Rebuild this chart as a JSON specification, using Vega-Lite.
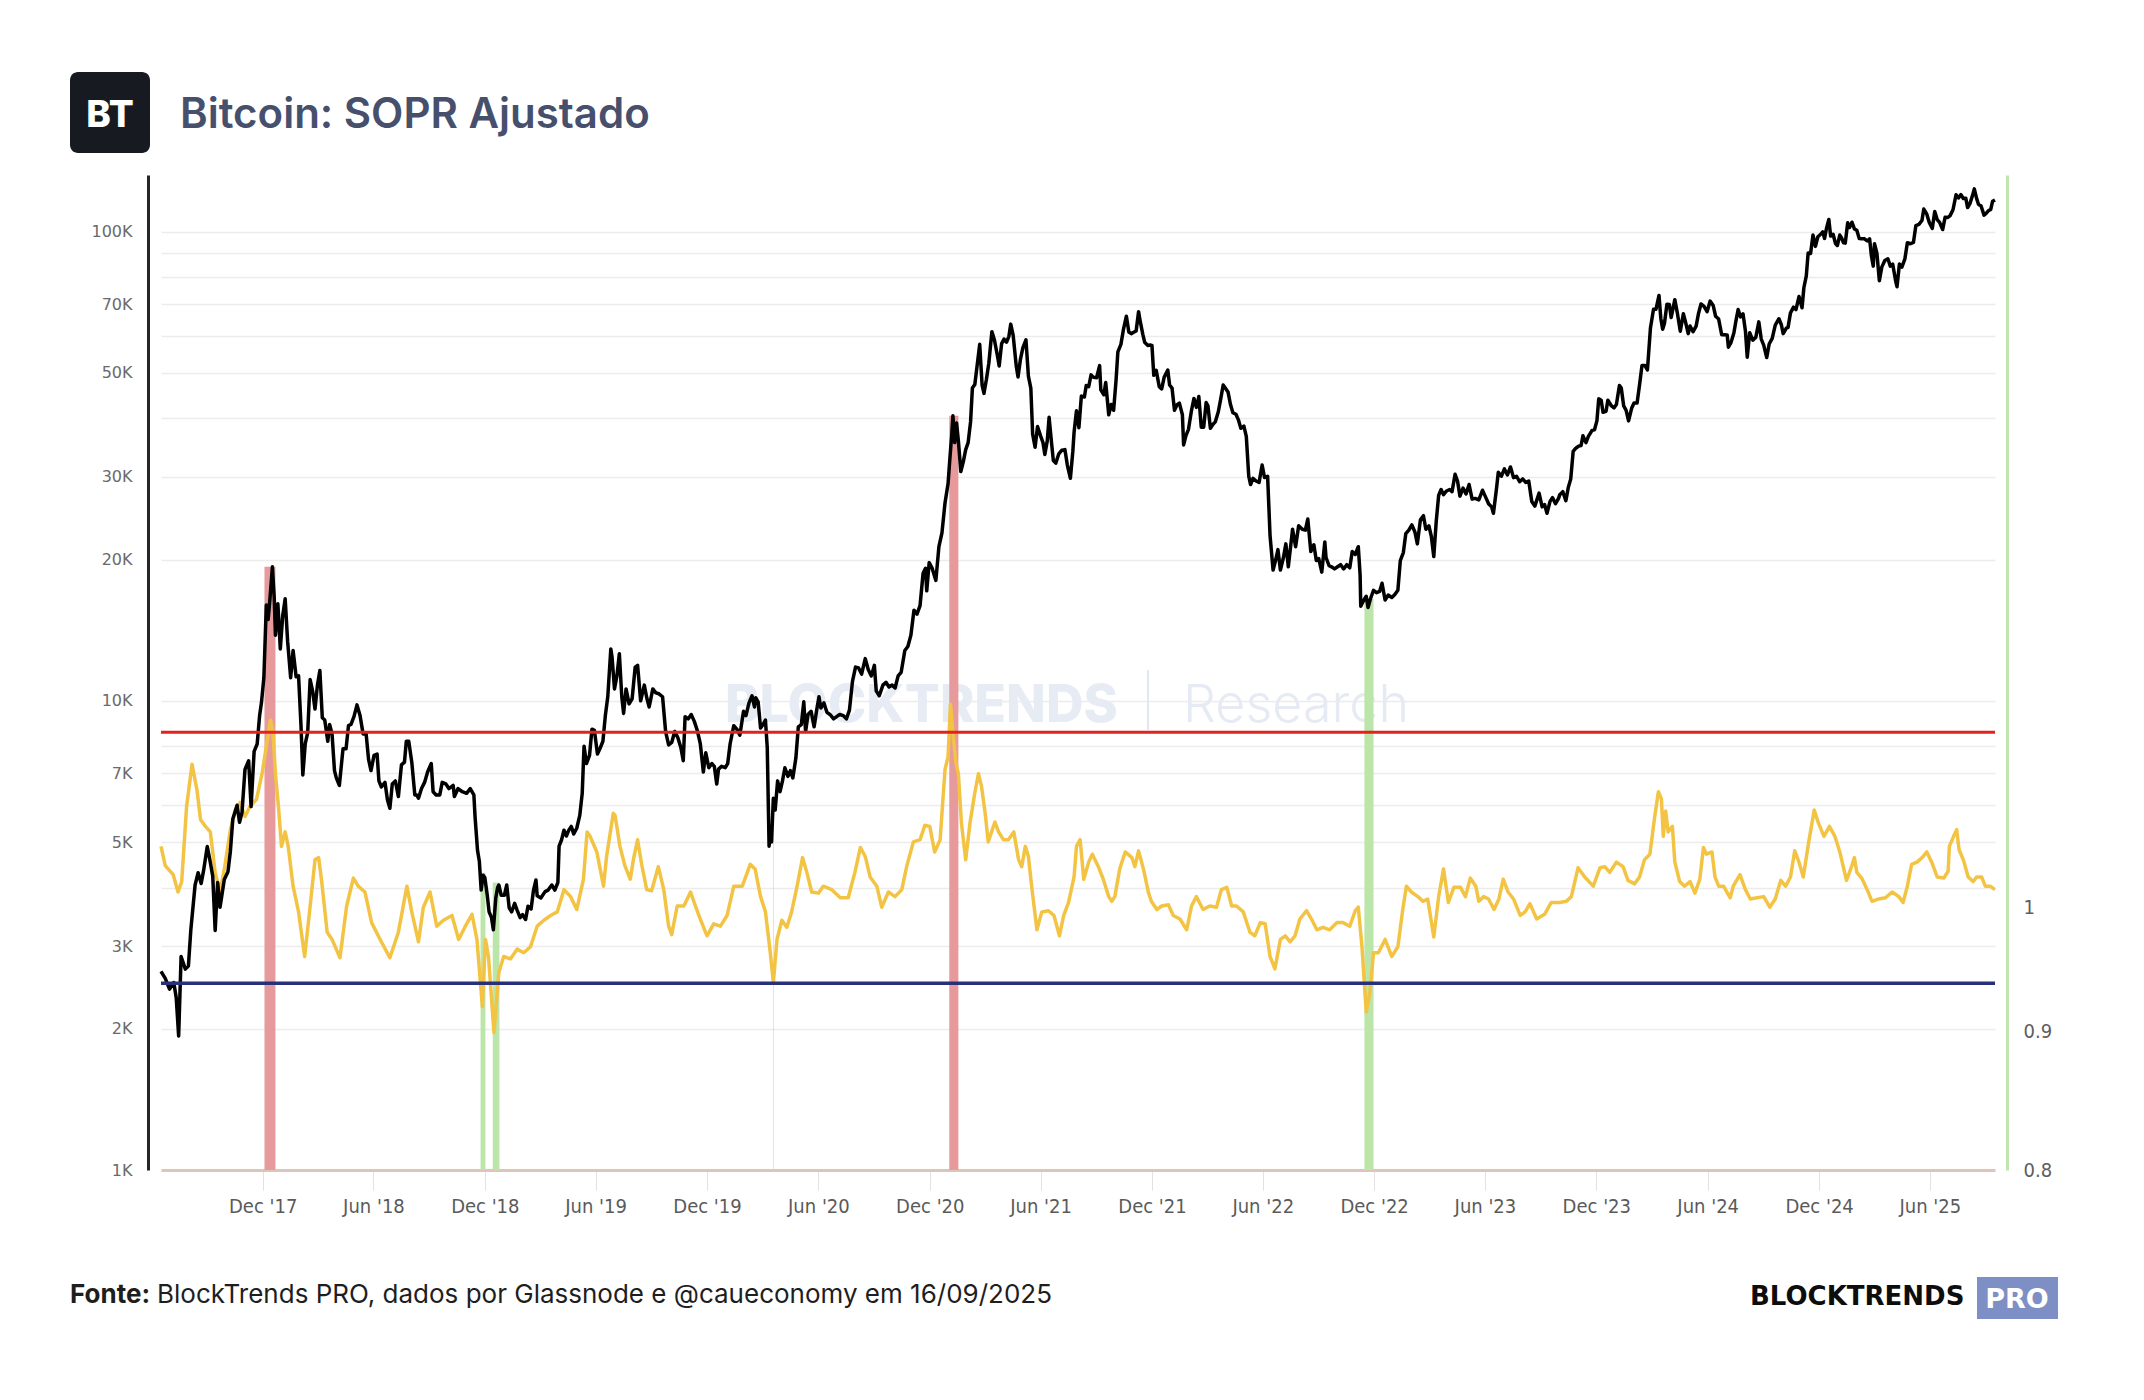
{
  "$schema": "https://vega.github.io/schema/vega-lite/v6.json",
  "width": 1834,
  "height": 995,
  "autosize": {"type": "none"},
  "padding": {"left": 161, "top": 175, "right": 149, "bottom": 230},
  "background": "#ffffff",
  "datasets": {
    "preco": [
      {"d":"2017-06-17","p":2650},{"d":"2017-06-24","p":2560},{"d":"2017-07-01","p":2430},{"d":"2017-07-08","p":2510},{"d":"2017-07-12","p":2330},{"d":"2017-07-16","p":1930},{"d":"2017-07-20","p":2850},{"d":"2017-07-27","p":2680},{"d":"2017-08-01","p":2720},{"d":"2017-08-05","p":3250},{"d":"2017-08-12","p":4050},{"d":"2017-08-17","p":4300},{"d":"2017-08-22","p":4080},{"d":"2017-08-26","p":4350},{"d":"2017-09-01","p":4890},{"d":"2017-09-05","p":4600},{"d":"2017-09-10","p":4230},{"d":"2017-09-14","p":3240},{"d":"2017-09-18","p":4100},{"d":"2017-09-22","p":3630},{"d":"2017-09-29","p":4160},{"d":"2017-10-05","p":4320},{"d":"2017-10-09","p":4780},{"d":"2017-10-13","p":5600},{"d":"2017-10-20","p":5990},{"d":"2017-10-24","p":5510},{"d":"2017-10-28","p":5770},{"d":"2017-11-02","p":7140},{"d":"2017-11-08","p":7450},{"d":"2017-11-12","p":5950},{"d":"2017-11-17","p":7800},{"d":"2017-11-22","p":8090},{"d":"2017-11-26","p":9300},{"d":"2017-11-29","p":9900},{"d":"2017-12-03","p":11200},{"d":"2017-12-07","p":16000},{"d":"2017-12-10","p":14900},{"d":"2017-12-13","p":16500},{"d":"2017-12-17","p":19300},{"d":"2017-12-20","p":16600},{"d":"2017-12-22","p":13800},{"d":"2017-12-26","p":16100},{"d":"2017-12-30","p":12900},
      {"d":"2018-01-03","p":15200},{"d":"2018-01-07","p":16500},{"d":"2018-01-11","p":13400},{"d":"2018-01-16","p":11200},{"d":"2018-01-20","p":12800},{"d":"2018-01-25","p":11250},{"d":"2018-01-29","p":11300},{"d":"2018-02-02","p":8850},{"d":"2018-02-05","p":6950},{"d":"2018-02-09","p":8100},{"d":"2018-02-13","p":8550},{"d":"2018-02-17","p":11100},{"d":"2018-02-21","p":10500},{"d":"2018-02-25","p":9600},{"d":"2018-03-01","p":10800},{"d":"2018-03-05","p":11600},{"d":"2018-03-09","p":9200},{"d":"2018-03-13","p":9100},{"d":"2018-03-18","p":8200},{"d":"2018-03-21","p":8900},{"d":"2018-03-25","p":8500},{"d":"2018-03-29","p":7100},{"d":"2018-04-01","p":6850},{"d":"2018-04-06","p":6600},{"d":"2018-04-12","p":7900},{"d":"2018-04-17","p":7900},{"d":"2018-04-21","p":8850},{"d":"2018-04-25","p":8900},{"d":"2018-04-30","p":9250},{"d":"2018-05-05","p":9800},{"d":"2018-05-10","p":9300},{"d":"2018-05-15","p":8500},{"d":"2018-05-20","p":8500},{"d":"2018-05-24","p":7500},{"d":"2018-05-28","p":7100},{"d":"2018-06-02","p":7650},{"d":"2018-06-07","p":7700},{"d":"2018-06-10","p":6750},{"d":"2018-06-14","p":6550},{"d":"2018-06-20","p":6700},{"d":"2018-06-24","p":6150},{"d":"2018-06-28","p":5900},{"d":"2018-07-02","p":6650},{"d":"2018-07-07","p":6750},{"d":"2018-07-12","p":6250},{"d":"2018-07-17","p":7300},{"d":"2018-07-22","p":7400},{"d":"2018-07-25","p":8200},{"d":"2018-07-29","p":8200},{"d":"2018-08-03","p":7400},{"d":"2018-08-08","p":6300},{"d":"2018-08-11","p":6300},{"d":"2018-08-14","p":6200},{"d":"2018-08-19","p":6500},{"d":"2018-08-24","p":6700},{"d":"2018-08-29","p":7050},{"d":"2018-09-04","p":7350},{"d":"2018-09-07","p":6400},{"d":"2018-09-12","p":6300},{"d":"2018-09-18","p":6300},{"d":"2018-09-22","p":6700},{"d":"2018-09-28","p":6650},{"d":"2018-10-03","p":6500},{"d":"2018-10-10","p":6600},{"d":"2018-10-12","p":6250},{"d":"2018-10-18","p":6500},{"d":"2018-10-25","p":6400},{"d":"2018-11-01","p":6350},{"d":"2018-11-07","p":6500},{"d":"2018-11-13","p":6300},{"d":"2018-11-15","p":5650},{"d":"2018-11-19","p":4800},{"d":"2018-11-22","p":4550},{"d":"2018-11-25","p":3950},{"d":"2018-11-28","p":4250},{"d":"2018-12-01","p":4200},{"d":"2018-12-05","p":3850},{"d":"2018-12-08","p":3550},{"d":"2018-12-12","p":3450},{"d":"2018-12-15","p":3250},{"d":"2018-12-19","p":3800},{"d":"2018-12-22","p":4000},{"d":"2018-12-24","p":4050},{"d":"2018-12-28","p":3850},
      {"d":"2019-01-02","p":3850},{"d":"2019-01-06","p":4050},{"d":"2019-01-10","p":3620},{"d":"2019-01-14","p":3550},{"d":"2019-01-19","p":3700},{"d":"2019-01-23","p":3580},{"d":"2019-01-28","p":3450},{"d":"2019-02-01","p":3500},{"d":"2019-02-06","p":3420},{"d":"2019-02-10","p":3650},{"d":"2019-02-15","p":3600},{"d":"2019-02-19","p":3950},{"d":"2019-02-23","p":4150},{"d":"2019-02-25","p":3840},{"d":"2019-03-03","p":3800},{"d":"2019-03-10","p":3920},{"d":"2019-03-15","p":3950},{"d":"2019-03-21","p":4050},{"d":"2019-03-26","p":3950},{"d":"2019-03-31","p":4100},{"d":"2019-04-02","p":4900},{"d":"2019-04-06","p":5050},{"d":"2019-04-10","p":5300},{"d":"2019-04-14","p":5150},{"d":"2019-04-18","p":5300},{"d":"2019-04-22","p":5400},{"d":"2019-04-26","p":5200},{"d":"2019-05-01","p":5350},{"d":"2019-05-06","p":5700},{"d":"2019-05-10","p":6350},{"d":"2019-05-13","p":8000},{"d":"2019-05-17","p":7350},{"d":"2019-05-22","p":7650},{"d":"2019-05-26","p":8700},{"d":"2019-05-30","p":8650},{"d":"2019-06-04","p":7700},{"d":"2019-06-08","p":7900},{"d":"2019-06-13","p":8200},{"d":"2019-06-17","p":9300},{"d":"2019-06-21","p":10200},{"d":"2019-06-26","p":12900},{"d":"2019-06-28","p":12400},{"d":"2019-07-02","p":10600},{"d":"2019-07-06","p":11300},{"d":"2019-07-10","p":12600},{"d":"2019-07-14","p":10200},{"d":"2019-07-17","p":9400},{"d":"2019-07-21","p":10600},{"d":"2019-07-26","p":9850},{"d":"2019-07-31","p":10100},{"d":"2019-08-05","p":11800},{"d":"2019-08-09","p":11900},{"d":"2019-08-14","p":10000},{"d":"2019-08-20","p":10800},{"d":"2019-08-24","p":10150},{"d":"2019-08-28","p":9700},{"d":"2019-09-03","p":10600},{"d":"2019-09-08","p":10400},{"d":"2019-09-13","p":10350},{"d":"2019-09-19","p":10200},{"d":"2019-09-24","p":8600},{"d":"2019-09-29","p":8050},{"d":"2019-10-04","p":8150},{"d":"2019-10-09","p":8600},{"d":"2019-10-14","p":8350},{"d":"2019-10-19","p":7950},{"d":"2019-10-23","p":7450},{"d":"2019-10-26","p":9250},{"d":"2019-10-31","p":9150},{"d":"2019-11-05","p":9350},{"d":"2019-11-10","p":9050},{"d":"2019-11-15","p":8650},{"d":"2019-11-20","p":8100},{"d":"2019-11-25","p":7050},{"d":"2019-11-29","p":7750},{"d":"2019-12-04","p":7200},{"d":"2019-12-09","p":7350},{"d":"2019-12-13","p":7250},{"d":"2019-12-17","p":6650},{"d":"2019-12-20","p":7150},{"d":"2019-12-25","p":7250},{"d":"2019-12-31","p":7200},
      {"d":"2020-01-04","p":7350},{"d":"2020-01-08","p":8100},{"d":"2020-01-14","p":8850},{"d":"2020-01-19","p":8700},{"d":"2020-01-24","p":8450},{"d":"2020-01-30","p":9500},{"d":"2020-02-03","p":9300},{"d":"2020-02-08","p":9900},{"d":"2020-02-13","p":10250},{"d":"2020-02-17","p":9700},{"d":"2020-02-19","p":10150},{"d":"2020-02-23","p":9950},{"d":"2020-02-27","p":8750},{"d":"2020-03-02","p":8900},{"d":"2020-03-06","p":9100},{"d":"2020-03-09","p":7950},{"d":"2020-03-12","p":4900},{"d":"2020-03-15","p":5350},{"d":"2020-03-16","p":5000},{"d":"2020-03-19","p":6200},{"d":"2020-03-22","p":5850},{"d":"2020-03-26","p":6750},{"d":"2020-03-30","p":6400},{"d":"2020-04-03","p":6750},{"d":"2020-04-07","p":7200},{"d":"2020-04-12","p":6900},{"d":"2020-04-16","p":7100},{"d":"2020-04-20","p":6850},{"d":"2020-04-25","p":7550},{"d":"2020-04-29","p":8800},{"d":"2020-05-04","p":8900},{"d":"2020-05-08","p":9950},{"d":"2020-05-11","p":8600},{"d":"2020-05-15","p":9350},{"d":"2020-05-20","p":9500},{"d":"2020-05-25","p":8800},{"d":"2020-05-30","p":9700},{"d":"2020-06-02","p":10200},{"d":"2020-06-05","p":9650},{"d":"2020-06-10","p":9900},{"d":"2020-06-15","p":9450},{"d":"2020-06-20","p":9350},{"d":"2020-06-26","p":9150},{"d":"2020-07-01","p":9250},{"d":"2020-07-06","p":9350},{"d":"2020-07-12","p":9300},{"d":"2020-07-17","p":9150},{"d":"2020-07-22","p":9550},{"d":"2020-07-27","p":11000},{"d":"2020-08-01","p":11800},{"d":"2020-08-06","p":11750},{"d":"2020-08-11","p":11400},{"d":"2020-08-17","p":12300},{"d":"2020-08-22","p":11650},{"d":"2020-08-27","p":11300},{"d":"2020-09-01","p":11900},{"d":"2020-09-04","p":10500},{"d":"2020-09-09","p":10250},{"d":"2020-09-15","p":10800},{"d":"2020-09-20","p":10950},{"d":"2020-09-25","p":10700},{"d":"2020-09-30","p":10800},{"d":"2020-10-05","p":10650},{"d":"2020-10-10","p":11300},{"d":"2020-10-15","p":11500},{"d":"2020-10-21","p":12800},{"d":"2020-10-26","p":13050},{"d":"2020-10-31","p":13800},{"d":"2020-11-05","p":15600},{"d":"2020-11-10","p":15300},{"d":"2020-11-15","p":15950},{"d":"2020-11-20","p":18700},{"d":"2020-11-24","p":19150},{"d":"2020-11-26","p":17150},{"d":"2020-11-30","p":19700},{"d":"2020-12-05","p":19150},{"d":"2020-12-11","p":18050},{"d":"2020-12-16","p":21300},{"d":"2020-12-21","p":22800},{"d":"2020-12-26","p":26400},{"d":"2020-12-31","p":29000},
      {"d":"2021-01-03","p":32800},{"d":"2021-01-06","p":36800},{"d":"2021-01-08","p":40500},{"d":"2021-01-11","p":35500},{"d":"2021-01-14","p":39100},{"d":"2021-01-17","p":35800},{"d":"2021-01-21","p":30800},{"d":"2021-01-25","p":32300},{"d":"2021-01-29","p":34300},{"d":"2021-02-02","p":35500},{"d":"2021-02-06","p":39300},{"d":"2021-02-09","p":46400},{"d":"2021-02-13","p":47200},{"d":"2021-02-17","p":52100},{"d":"2021-02-21","p":57500},{"d":"2021-02-25","p":47000},{"d":"2021-02-28","p":45200},{"d":"2021-03-04","p":48400},{"d":"2021-03-08","p":52400},{"d":"2021-03-13","p":61200},{"d":"2021-03-17","p":58900},{"d":"2021-03-22","p":54500},{"d":"2021-03-25","p":51700},{"d":"2021-03-29","p":57700},{"d":"2021-04-02","p":59000},{"d":"2021-04-06","p":58100},{"d":"2021-04-10","p":59800},{"d":"2021-04-13","p":63500},{"d":"2021-04-17","p":60100},{"d":"2021-04-22","p":51800},{"d":"2021-04-25","p":49000},{"d":"2021-04-29","p":53500},{"d":"2021-05-03","p":56600},{"d":"2021-05-08","p":58800},{"d":"2021-05-12","p":49200},{"d":"2021-05-16","p":46400},{"d":"2021-05-19","p":37000},{"d":"2021-05-23","p":34700},{"d":"2021-05-27","p":38400},{"d":"2021-06-01","p":36700},{"d":"2021-06-05","p":35500},{"d":"2021-06-08","p":33500},{"d":"2021-06-12","p":35800},{"d":"2021-06-15","p":40200},{"d":"2021-06-19","p":35500},{"d":"2021-06-22","p":32500},{"d":"2021-06-26","p":32100},{"d":"2021-07-01","p":33600},{"d":"2021-07-06","p":34200},{"d":"2021-07-11","p":34300},{"d":"2021-07-15","p":31800},{"d":"2021-07-20","p":29800},{"d":"2021-07-24","p":34000},{"d":"2021-07-26","p":37300},{"d":"2021-07-30","p":41500},{"d":"2021-08-03","p":38200},{"d":"2021-08-07","p":44600},{"d":"2021-08-12","p":44400},{"d":"2021-08-15","p":47000},{"d":"2021-08-19","p":46700},{"d":"2021-08-23","p":49500},{"d":"2021-08-27","p":48900},{"d":"2021-09-01","p":48800},{"d":"2021-09-06","p":51800},{"d":"2021-09-08","p":46000},{"d":"2021-09-13","p":44900},{"d":"2021-09-16","p":47700},{"d":"2021-09-21","p":40700},{"d":"2021-09-25","p":42800},{"d":"2021-09-29","p":41600},{"d":"2021-10-03","p":48200},{"d":"2021-10-06","p":55400},{"d":"2021-10-11","p":57500},{"d":"2021-10-15","p":61700},{"d":"2021-10-20","p":66000},{"d":"2021-10-24","p":61100},{"d":"2021-10-28","p":60600},{"d":"2021-11-01","p":61000},{"d":"2021-11-05","p":61400},{"d":"2021-11-09","p":67500},{"d":"2021-11-12","p":64100},{"d":"2021-11-16","p":60400},{"d":"2021-11-19","p":58100},{"d":"2021-11-24","p":57200},{"d":"2021-11-28","p":57300},{"d":"2021-12-01","p":57200},{"d":"2021-12-04","p":49400},{"d":"2021-12-08","p":50600},{"d":"2021-12-13","p":46700},{"d":"2021-12-17","p":46200},{"d":"2021-12-21","p":48900},{"d":"2021-12-27","p":50700},{"d":"2021-12-30","p":47100},
      {"d":"2022-01-03","p":46400},{"d":"2022-01-07","p":41600},{"d":"2022-01-11","p":42700},{"d":"2022-01-15","p":43100},{"d":"2022-01-20","p":40700},{"d":"2022-01-22","p":35100},{"d":"2022-01-26","p":36800},{"d":"2022-01-30","p":37900},{"d":"2022-02-04","p":41600},{"d":"2022-02-08","p":44100},{"d":"2022-02-12","p":42200},{"d":"2022-02-16","p":44500},{"d":"2022-02-20","p":38300},{"d":"2022-02-24","p":38300},{"d":"2022-02-28","p":43200},{"d":"2022-03-03","p":42500},{"d":"2022-03-07","p":38100},{"d":"2022-03-11","p":38800},{"d":"2022-03-15","p":39300},{"d":"2022-03-20","p":41300},{"d":"2022-03-24","p":44000},{"d":"2022-03-28","p":47100},{"d":"2022-04-01","p":46300},{"d":"2022-04-05","p":45500},{"d":"2022-04-09","p":42800},{"d":"2022-04-13","p":41100},{"d":"2022-04-18","p":40800},{"d":"2022-04-22","p":39700},{"d":"2022-04-26","p":38100},{"d":"2022-05-01","p":38500},{"d":"2022-05-05","p":36600},{"d":"2022-05-09","p":30100},{"d":"2022-05-12","p":28900},{"d":"2022-05-16","p":29800},{"d":"2022-05-21","p":29400},{"d":"2022-05-26","p":29200},{"d":"2022-05-31","p":31800},{"d":"2022-06-04","p":29900},{"d":"2022-06-09","p":30100},{"d":"2022-06-13","p":22500},{"d":"2022-06-18","p":19000},{"d":"2022-06-22","p":19900},{"d":"2022-06-26","p":21000},{"d":"2022-06-30","p":19000},{"d":"2022-07-05","p":20200},{"d":"2022-07-09","p":21600},{"d":"2022-07-13","p":19300},{"d":"2022-07-18","p":22000},{"d":"2022-07-20","p":23200},{"d":"2022-07-25","p":21300},{"d":"2022-07-30","p":23600},{"d":"2022-08-05","p":23200},{"d":"2022-08-10","p":23100},{"d":"2022-08-14","p":24400},{"d":"2022-08-19","p":20800},{"d":"2022-08-24","p":21500},{"d":"2022-08-28","p":19900},{"d":"2022-09-01","p":20100},{"d":"2022-09-06","p":18800},{"d":"2022-09-11","p":21800},{"d":"2022-09-13","p":20200},{"d":"2022-09-18","p":19400},{"d":"2022-09-22","p":19300},{"d":"2022-09-27","p":19100},{"d":"2022-10-02","p":19300},{"d":"2022-10-07","p":19500},{"d":"2022-10-12","p":19100},{"d":"2022-10-17","p":19500},{"d":"2022-10-22","p":19200},{"d":"2022-10-26","p":20800},{"d":"2022-10-31","p":20500},{"d":"2022-11-05","p":21300},{"d":"2022-11-08","p":18500},{"d":"2022-11-09","p":15900},{"d":"2022-11-13","p":16300},{"d":"2022-11-18","p":16700},{"d":"2022-11-21","p":15800},{"d":"2022-11-25","p":16500},{"d":"2022-11-30","p":17200},{"d":"2022-12-05","p":17000},{"d":"2022-12-10","p":17100},{"d":"2022-12-14","p":17800},{"d":"2022-12-19","p":16400},{"d":"2022-12-24","p":16800},{"d":"2022-12-30","p":16600},
      {"d":"2023-01-04","p":16850},{"d":"2023-01-09","p":17200},{"d":"2023-01-13","p":19900},{"d":"2023-01-18","p":20700},{"d":"2023-01-22","p":22700},{"d":"2023-01-27","p":23100},{"d":"2023-02-01","p":23700},{"d":"2023-02-06","p":22900},{"d":"2023-02-10","p":21600},{"d":"2023-02-15","p":24300},{"d":"2023-02-20","p":24800},{"d":"2023-02-24","p":23200},{"d":"2023-03-01","p":23600},{"d":"2023-03-05","p":22400},{"d":"2023-03-09","p":20300},{"d":"2023-03-13","p":24100},{"d":"2023-03-17","p":27400},{"d":"2023-03-21","p":28200},{"d":"2023-03-25","p":27500},{"d":"2023-03-30","p":28000},{"d":"2023-04-04","p":28200},{"d":"2023-04-08","p":27900},{"d":"2023-04-13","p":30400},{"d":"2023-04-17","p":29400},{"d":"2023-04-21","p":27300},{"d":"2023-04-26","p":28400},{"d":"2023-05-01","p":27600},{"d":"2023-05-06","p":28900},{"d":"2023-05-11","p":26900},{"d":"2023-05-16","p":27000},{"d":"2023-05-22","p":26800},{"d":"2023-05-28","p":28100},{"d":"2023-06-02","p":27200},{"d":"2023-06-07","p":26300},{"d":"2023-06-12","p":25900},{"d":"2023-06-15","p":25100},{"d":"2023-06-20","p":28300},{"d":"2023-06-23","p":30700},{"d":"2023-06-28","p":30100},{"d":"2023-07-03","p":31200},{"d":"2023-07-08","p":30300},{"d":"2023-07-13","p":31500},{"d":"2023-07-18","p":29900},{"d":"2023-07-23","p":30100},{"d":"2023-07-28","p":29300},{"d":"2023-08-02","p":29700},{"d":"2023-08-07","p":29200},{"d":"2023-08-12","p":29400},{"d":"2023-08-17","p":26600},{"d":"2023-08-22","p":26000},{"d":"2023-08-29","p":27700},{"d":"2023-09-03","p":25900},{"d":"2023-09-07","p":26200},{"d":"2023-09-11","p":25100},{"d":"2023-09-16","p":26600},{"d":"2023-09-20","p":27100},{"d":"2023-09-25","p":26300},{"d":"2023-09-30","p":27000},{"d":"2023-10-02","p":27500},{"d":"2023-10-07","p":27900},{"d":"2023-10-12","p":26700},{"d":"2023-10-16","p":28500},{"d":"2023-10-20","p":29700},{"d":"2023-10-24","p":34000},{"d":"2023-10-28","p":34500},{"d":"2023-11-02","p":34900},{"d":"2023-11-06","p":35000},{"d":"2023-11-09","p":36700},{"d":"2023-11-14","p":35500},{"d":"2023-11-18","p":36600},{"d":"2023-11-24","p":37700},{"d":"2023-11-28","p":37800},{"d":"2023-12-02","p":39500},{"d":"2023-12-05","p":44000},{"d":"2023-12-09","p":43700},{"d":"2023-12-12","p":41200},{"d":"2023-12-17","p":41400},{"d":"2023-12-20","p":43700},{"d":"2023-12-26","p":42500},{"d":"2023-12-30","p":42100},
      {"d":"2024-01-03","p":42800},{"d":"2024-01-08","p":47000},{"d":"2024-01-11","p":46400},{"d":"2024-01-15","p":42500},{"d":"2024-01-19","p":41600},{"d":"2024-01-23","p":39500},{"d":"2024-01-28","p":42000},{"d":"2024-02-01","p":43100},{"d":"2024-02-06","p":43100},{"d":"2024-02-10","p":47100},{"d":"2024-02-14","p":51800},{"d":"2024-02-19","p":51800},{"d":"2024-02-23","p":50700},{"d":"2024-02-28","p":62400},{"d":"2024-03-04","p":68300},{"d":"2024-03-08","p":68300},{"d":"2024-03-13","p":73100},{"d":"2024-03-16","p":65300},{"d":"2024-03-19","p":61900},{"d":"2024-03-22","p":63800},{"d":"2024-03-26","p":70000},{"d":"2024-03-30","p":69900},{"d":"2024-04-02","p":65600},{"d":"2024-04-08","p":71600},{"d":"2024-04-12","p":67200},{"d":"2024-04-17","p":61300},{"d":"2024-04-22","p":66800},{"d":"2024-04-26","p":63800},{"d":"2024-04-30","p":60600},{"d":"2024-05-03","p":62900},{"d":"2024-05-08","p":61200},{"d":"2024-05-13","p":62900},{"d":"2024-05-17","p":67000},{"d":"2024-05-21","p":70100},{"d":"2024-05-26","p":69300},{"d":"2024-05-31","p":67500},{"d":"2024-06-05","p":71100},{"d":"2024-06-10","p":69600},{"d":"2024-06-14","p":66000},{"d":"2024-06-19","p":65100},{"d":"2024-06-24","p":60300},{"d":"2024-06-28","p":60300},{"d":"2024-07-03","p":60200},{"d":"2024-07-05","p":56700},{"d":"2024-07-09","p":57900},{"d":"2024-07-14","p":60800},{"d":"2024-07-17","p":64100},{"d":"2024-07-21","p":68200},{"d":"2024-07-25","p":65800},{"d":"2024-07-29","p":66800},{"d":"2024-08-02","p":61400},{"d":"2024-08-05","p":54000},{"d":"2024-08-09","p":60900},{"d":"2024-08-14","p":58700},{"d":"2024-08-19","p":59500},{"d":"2024-08-24","p":64200},{"d":"2024-08-28","p":59000},{"d":"2024-09-01","p":57300},{"d":"2024-09-06","p":53900},{"d":"2024-09-10","p":57600},{"d":"2024-09-15","p":59200},{"d":"2024-09-20","p":63200},{"d":"2024-09-26","p":65200},{"d":"2024-09-30","p":63300},{"d":"2024-10-03","p":60600},{"d":"2024-10-08","p":62200},{"d":"2024-10-11","p":62500},{"d":"2024-10-15","p":67100},{"d":"2024-10-20","p":69000},{"d":"2024-10-24","p":68200},{"d":"2024-10-29","p":72700},{"d":"2024-11-03","p":68800},{"d":"2024-11-06","p":75900},{"d":"2024-11-10","p":80500},{"d":"2024-11-13","p":90000},{"d":"2024-11-17","p":89800},{"d":"2024-11-21","p":98300},{"d":"2024-11-25","p":93000},{"d":"2024-11-29","p":97500},{"d":"2024-12-04","p":98800},{"d":"2024-12-07","p":99900},{"d":"2024-12-10","p":96700},{"d":"2024-12-13","p":101400},{"d":"2024-12-17","p":106100},{"d":"2024-12-20","p":97800},{"d":"2024-12-24","p":98700},{"d":"2024-12-28","p":94300},{"d":"2024-12-31","p":93400},
      {"d":"2025-01-04","p":98300},{"d":"2025-01-07","p":96900},{"d":"2025-01-10","p":94700},{"d":"2025-01-13","p":94500},{"d":"2025-01-17","p":104400},{"d":"2025-01-20","p":102000},{"d":"2025-01-24","p":104700},{"d":"2025-01-28","p":101300},{"d":"2025-02-01","p":100600},{"d":"2025-02-05","p":96600},{"d":"2025-02-09","p":96500},{"d":"2025-02-13","p":96600},{"d":"2025-02-18","p":95500},{"d":"2025-02-22","p":96500},{"d":"2025-02-25","p":88700},{"d":"2025-02-28","p":84400},{"d":"2025-03-02","p":94200},{"d":"2025-03-06","p":89900},{"d":"2025-03-10","p":78600},{"d":"2025-03-14","p":84000},{"d":"2025-03-19","p":86800},{"d":"2025-03-24","p":87500},{"d":"2025-03-28","p":84400},{"d":"2025-04-01","p":85200},{"d":"2025-04-06","p":78200},{"d":"2025-04-08","p":76300},{"d":"2025-04-12","p":85300},{"d":"2025-04-16","p":84000},{"d":"2025-04-21","p":87500},{"d":"2025-04-25","p":94700},{"d":"2025-04-30","p":94200},{"d":"2025-05-05","p":94800},{"d":"2025-05-09","p":103000},{"d":"2025-05-14","p":103600},{"d":"2025-05-19","p":105600},{"d":"2025-05-22","p":111700},{"d":"2025-05-27","p":108900},{"d":"2025-05-31","p":104600},{"d":"2025-06-05","p":101600},{"d":"2025-06-09","p":110300},{"d":"2025-06-13","p":106100},{"d":"2025-06-17","p":104600},{"d":"2025-06-22","p":101000},{"d":"2025-06-26","p":107300},{"d":"2025-06-30","p":107100},{"d":"2025-07-04","p":108000},{"d":"2025-07-09","p":111300},{"d":"2025-07-14","p":119800},{"d":"2025-07-18","p":117900},{"d":"2025-07-22","p":119900},{"d":"2025-07-26","p":117600},{"d":"2025-07-30","p":117800},{"d":"2025-08-02","p":112500},{"d":"2025-08-06","p":114900},{"d":"2025-08-10","p":119300},{"d":"2025-08-13","p":123300},{"d":"2025-08-17","p":117400},{"d":"2025-08-20","p":114200},{"d":"2025-08-24","p":113500},{"d":"2025-08-29","p":108400},{"d":"2025-09-01","p":109200},{"d":"2025-09-05","p":110700},{"d":"2025-09-09","p":111500},{"d":"2025-09-12","p":116000},{"d":"2025-09-16","p":116800}
    ],
    "sopr": [
      {"d":"2017-06-17","s":1.053},{"d":"2017-06-24","s":1.036},{"d":"2017-07-07","s":1.028},{"d":"2017-07-15","s":1.013},{"d":"2017-07-21","s":1.022},{"d":"2017-07-29","s":1.089},{"d":"2017-08-07","s":1.129},{"d":"2017-08-15","s":1.105},{"d":"2017-08-21","s":1.077},{"d":"2017-08-29","s":1.071},{"d":"2017-09-06","s":1.066},{"d":"2017-09-14","s":1.03},{"d":"2017-09-22","s":1.013},{"d":"2017-09-30","s":1.036},{"d":"2017-10-09","s":1.068},{"d":"2017-10-17","s":1.086},{"d":"2017-10-25","s":1.093},{"d":"2017-11-02","s":1.08},{"d":"2017-11-10","s":1.089},{"d":"2017-11-21","s":1.096},{"d":"2017-11-30","s":1.12},{"d":"2017-12-08","s":1.15},{"d":"2017-12-14","s":1.172},{"d":"2017-12-18","s":1.16},{"d":"2017-12-22","s":1.12},{"d":"2017-12-27","s":1.089},
      {"d":"2018-01-01","s":1.053},{"d":"2018-01-07","s":1.066},{"d":"2018-01-12","s":1.053},{"d":"2018-01-20","s":1.018},{"d":"2018-01-29","s":0.996},{"d":"2018-02-08","s":0.959},{"d":"2018-02-16","s":0.996},{"d":"2018-02-25","s":1.041},{"d":"2018-03-03","s":1.043},{"d":"2018-03-08","s":1.022},{"d":"2018-03-17","s":0.979},{"d":"2018-03-25","s":0.973},{"d":"2018-04-07","s":0.958},{"d":"2018-04-18","s":1.001},{"d":"2018-04-29","s":1.025},{"d":"2018-05-07","s":1.018},{"d":"2018-05-18","s":1.013},{"d":"2018-05-29","s":0.987},{"d":"2018-06-12","s":0.973},{"d":"2018-06-28","s":0.958},{"d":"2018-07-12","s":0.979},{"d":"2018-07-26","s":1.018},{"d":"2018-08-03","s":0.996},{"d":"2018-08-14","s":0.971},{"d":"2018-08-22","s":1.0},{"d":"2018-09-02","s":1.013},{"d":"2018-09-13","s":0.984},{"d":"2018-09-24","s":0.989},{"d":"2018-10-08","s":0.993},{"d":"2018-10-19","s":0.973},{"d":"2018-10-30","s":0.984},{"d":"2018-11-10","s":0.994},{"d":"2018-11-18","s":0.973},{"d":"2018-11-27","s":0.919},{"d":"2018-12-02","s":0.973},{"d":"2018-12-07","s":0.959},{"d":"2018-12-16","s":0.899},{"d":"2018-12-24","s":0.946},
      {"d":"2019-01-01","s":0.959},{"d":"2019-01-12","s":0.957},{"d":"2019-01-23","s":0.965},{"d":"2019-02-03","s":0.962},{"d":"2019-02-14","s":0.967},{"d":"2019-02-25","s":0.984},{"d":"2019-03-08","s":0.989},{"d":"2019-03-19","s":0.993},{"d":"2019-03-30","s":0.996},{"d":"2019-04-10","s":1.015},{"d":"2019-04-21","s":1.009},{"d":"2019-05-01","s":0.998},{"d":"2019-05-12","s":1.024},{"d":"2019-05-18","s":1.066},{"d":"2019-05-23","s":1.062},{"d":"2019-06-03","s":1.048},{"d":"2019-06-14","s":1.018},{"d":"2019-06-19","s":1.044},{"d":"2019-06-30","s":1.083},{"d":"2019-07-03","s":1.081},{"d":"2019-07-11","s":1.053},{"d":"2019-07-19","s":1.036},{"d":"2019-07-28","s":1.024},{"d":"2019-08-02","s":1.041},{"d":"2019-08-09","s":1.059},{"d":"2019-08-16","s":1.036},{"d":"2019-08-24","s":1.015},{"d":"2019-09-01","s":1.014},{"d":"2019-09-12","s":1.035},{"d":"2019-09-21","s":1.015},{"d":"2019-09-29","s":0.984},{"d":"2019-10-04","s":0.977},{"d":"2019-10-13","s":1.001},{"d":"2019-10-24","s":1.001},{"d":"2019-11-04","s":1.013},{"d":"2019-11-12","s":1.001},{"d":"2019-11-20","s":0.99},{"d":"2019-12-01","s":0.976},{"d":"2019-12-12","s":0.986},{"d":"2019-12-23","s":0.984},
      {"d":"2020-01-03","s":0.993},{"d":"2020-01-14","s":1.018},{"d":"2020-01-28","s":1.018},{"d":"2020-02-10","s":1.037},{"d":"2020-02-18","s":1.033},{"d":"2020-02-27","s":1.009},{"d":"2020-03-06","s":0.996},{"d":"2020-03-14","s":0.962},{"d":"2020-03-19","s":0.938},{"d":"2020-03-25","s":0.973},{"d":"2020-04-02","s":0.989},{"d":"2020-04-10","s":0.983},{"d":"2020-04-18","s":0.996},{"d":"2020-04-27","s":1.018},{"d":"2020-05-06","s":1.043},{"d":"2020-05-13","s":1.03},{"d":"2020-05-21","s":1.013},{"d":"2020-06-01","s":1.012},{"d":"2020-06-09","s":1.018},{"d":"2020-06-23","s":1.015},{"d":"2020-07-07","s":1.008},{"d":"2020-07-20","s":1.008},{"d":"2020-07-31","s":1.03},{"d":"2020-08-09","s":1.052},{"d":"2020-08-17","s":1.044},{"d":"2020-08-25","s":1.026},{"d":"2020-09-05","s":1.018},{"d":"2020-09-13","s":1.0},{"d":"2020-09-24","s":1.013},{"d":"2020-10-05","s":1.009},{"d":"2020-10-16","s":1.015},{"d":"2020-10-24","s":1.035},{"d":"2020-11-04","s":1.057},{"d":"2020-11-15","s":1.059},{"d":"2020-11-23","s":1.072},{"d":"2020-12-01","s":1.071},{"d":"2020-12-09","s":1.048},{"d":"2020-12-18","s":1.059},{"d":"2020-12-26","s":1.124},{"d":"2020-12-31","s":1.136},
      {"d":"2021-01-04","s":1.188},{"d":"2021-01-08","s":1.16},{"d":"2021-01-13","s":1.13},{"d":"2021-01-17","s":1.12},{"d":"2021-01-22","s":1.074},{"d":"2021-01-29","s":1.041},{"d":"2021-02-05","s":1.074},{"d":"2021-02-13","s":1.102},{"d":"2021-02-19","s":1.12},{"d":"2021-02-24","s":1.108},{"d":"2021-03-02","s":1.083},{"d":"2021-03-07","s":1.057},{"d":"2021-03-18","s":1.075},{"d":"2021-03-24","s":1.066},{"d":"2021-04-01","s":1.059},{"d":"2021-04-09","s":1.059},{"d":"2021-04-18","s":1.066},{"d":"2021-04-26","s":1.041},{"d":"2021-05-01","s":1.035},{"d":"2021-05-07","s":1.053},{"d":"2021-05-12","s":1.044},{"d":"2021-05-18","s":1.015},{"d":"2021-05-26","s":0.981},{"d":"2021-06-03","s":0.996},{"d":"2021-06-14","s":0.997},{"d":"2021-06-23","s":0.993},{"d":"2021-07-02","s":0.976},{"d":"2021-07-09","s":0.993},{"d":"2021-07-17","s":1.004},{"d":"2021-07-26","s":1.026},{"d":"2021-07-30","s":1.053},{"d":"2021-08-05","s":1.059},{"d":"2021-08-11","s":1.024},{"d":"2021-08-19","s":1.039},{"d":"2021-08-25","s":1.046},{"d":"2021-09-04","s":1.035},{"d":"2021-09-12","s":1.024},{"d":"2021-09-21","s":1.009},{"d":"2021-09-26","s":1.005},{"d":"2021-10-01","s":1.009},{"d":"2021-10-09","s":1.033},{"d":"2021-10-18","s":1.048},{"d":"2021-10-29","s":1.043},{"d":"2021-11-03","s":1.035},{"d":"2021-11-09","s":1.049},{"d":"2021-11-17","s":1.033},{"d":"2021-11-25","s":1.013},{"d":"2021-11-30","s":1.005},{"d":"2021-12-09","s":0.998},{"d":"2021-12-17","s":1.001},{"d":"2021-12-28","s":1.002},
      {"d":"2022-01-05","s":0.993},{"d":"2022-01-16","s":0.99},{"d":"2022-01-27","s":0.981},{"d":"2022-02-04","s":1.001},{"d":"2022-02-12","s":1.009},{"d":"2022-02-23","s":0.998},{"d":"2022-03-06","s":1.001},{"d":"2022-03-17","s":1.0},{"d":"2022-03-25","s":1.015},{"d":"2022-04-03","s":1.017},{"d":"2022-04-11","s":1.001},{"d":"2022-04-19","s":1.001},{"d":"2022-04-30","s":0.996},{"d":"2022-05-11","s":0.979},{"d":"2022-05-19","s":0.976},{"d":"2022-05-28","s":0.987},{"d":"2022-06-05","s":0.986},{"d":"2022-06-13","s":0.959},{"d":"2022-06-21","s":0.949},{"d":"2022-06-30","s":0.973},{"d":"2022-07-08","s":0.976},{"d":"2022-07-16","s":0.971},{"d":"2022-07-24","s":0.976},{"d":"2022-08-01","s":0.99},{"d":"2022-08-12","s":0.997},{"d":"2022-08-20","s":0.99},{"d":"2022-08-29","s":0.981},{"d":"2022-09-08","s":0.983},{"d":"2022-09-19","s":0.981},{"d":"2022-10-01","s":0.987},{"d":"2022-10-11","s":0.987},{"d":"2022-10-22","s":0.984},{"d":"2022-10-31","s":0.997},{"d":"2022-11-05","s":1.0},{"d":"2022-11-11","s":0.967},{"d":"2022-11-18","s":0.915},{"d":"2022-11-24","s":0.93},{"d":"2022-11-30","s":0.962},{"d":"2022-12-08","s":0.962},{"d":"2022-12-19","s":0.973},{"d":"2022-12-30","s":0.959},
      {"d":"2023-01-09","s":0.967},{"d":"2023-01-17","s":0.998},{"d":"2023-01-23","s":1.018},{"d":"2023-01-31","s":1.013},{"d":"2023-02-11","s":1.009},{"d":"2023-02-19","s":1.005},{"d":"2023-02-27","s":1.007},{"d":"2023-03-09","s":0.975},{"d":"2023-03-17","s":1.009},{"d":"2023-03-25","s":1.033},{"d":"2023-04-02","s":1.004},{"d":"2023-04-11","s":1.017},{"d":"2023-04-22","s":1.017},{"d":"2023-04-30","s":1.009},{"d":"2023-05-08","s":1.025},{"d":"2023-05-17","s":1.018},{"d":"2023-05-22","s":1.005},{"d":"2023-05-30","s":1.009},{"d":"2023-06-07","s":1.007},{"d":"2023-06-16","s":0.998},{"d":"2023-06-24","s":1.007},{"d":"2023-07-01","s":1.024},{"d":"2023-07-09","s":1.013},{"d":"2023-07-18","s":1.007},{"d":"2023-07-29","s":0.993},{"d":"2023-08-06","s":0.996},{"d":"2023-08-14","s":1.003},{"d":"2023-08-25","s":0.99},{"d":"2023-09-07","s":0.994},{"d":"2023-09-18","s":1.004},{"d":"2023-10-02","s":1.004},{"d":"2023-10-13","s":1.005},{"d":"2023-10-21","s":1.009},{"d":"2023-11-01","s":1.034},{"d":"2023-11-12","s":1.026},{"d":"2023-11-26","s":1.018},{"d":"2023-12-07","s":1.034},{"d":"2023-12-15","s":1.035},{"d":"2023-12-23","s":1.03},
      {"d":"2024-01-03","s":1.039},{"d":"2024-01-14","s":1.035},{"d":"2024-01-22","s":1.023},{"d":"2024-02-02","s":1.02},{"d":"2024-02-10","s":1.026},{"d":"2024-02-18","s":1.041},{"d":"2024-02-27","s":1.046},{"d":"2024-03-06","s":1.08},{"d":"2024-03-12","s":1.103},{"d":"2024-03-17","s":1.096},{"d":"2024-03-20","s":1.062},{"d":"2024-03-24","s":1.085},{"d":"2024-03-28","s":1.066},{"d":"2024-04-04","s":1.071},{"d":"2024-04-08","s":1.039},{"d":"2024-04-16","s":1.022},{"d":"2024-04-24","s":1.018},{"d":"2024-05-03","s":1.022},{"d":"2024-05-11","s":1.012},{"d":"2024-05-19","s":1.024},{"d":"2024-05-25","s":1.052},{"d":"2024-05-30","s":1.046},{"d":"2024-06-08","s":1.048},{"d":"2024-06-13","s":1.026},{"d":"2024-06-19","s":1.018},{"d":"2024-06-27","s":1.018},{"d":"2024-07-08","s":1.008},{"d":"2024-07-13","s":1.018},{"d":"2024-07-24","s":1.028},{"d":"2024-08-02","s":1.015},{"d":"2024-08-10","s":1.007},{"d":"2024-08-21","s":1.008},{"d":"2024-09-01","s":1.009},{"d":"2024-09-11","s":1.0},{"d":"2024-09-20","s":1.007},{"d":"2024-09-29","s":1.023},{"d":"2024-10-07","s":1.018},{"d":"2024-10-15","s":1.026},{"d":"2024-10-22","s":1.049},{"d":"2024-10-29","s":1.039},{"d":"2024-11-05","s":1.026},{"d":"2024-11-14","s":1.057},{"d":"2024-11-23","s":1.086},{"d":"2024-11-30","s":1.074},{"d":"2024-12-09","s":1.062},{"d":"2024-12-18","s":1.071},{"d":"2024-12-27","s":1.062},
      {"d":"2025-01-04","s":1.048},{"d":"2025-01-15","s":1.023},{"d":"2025-01-22","s":1.033},{"d":"2025-01-28","s":1.043},{"d":"2025-02-01","s":1.03},{"d":"2025-02-09","s":1.025},{"d":"2025-02-18","s":1.015},{"d":"2025-02-26","s":1.005},{"d":"2025-03-09","s":1.007},{"d":"2025-03-20","s":1.008},{"d":"2025-03-31","s":1.013},{"d":"2025-04-11","s":1.009},{"d":"2025-04-18","s":1.004},{"d":"2025-04-25","s":1.018},{"d":"2025-05-02","s":1.037},{"d":"2025-05-11","s":1.039},{"d":"2025-05-21","s":1.044},{"d":"2025-05-27","s":1.048},{"d":"2025-06-04","s":1.039},{"d":"2025-06-13","s":1.026},{"d":"2025-06-24","s":1.025},{"d":"2025-07-01","s":1.031},{"d":"2025-07-03","s":1.053},{"d":"2025-07-10","s":1.062},{"d":"2025-07-15","s":1.068},{"d":"2025-07-19","s":1.05},{"d":"2025-07-26","s":1.041},{"d":"2025-08-03","s":1.026},{"d":"2025-08-11","s":1.022},{"d":"2025-08-17","s":1.026},{"d":"2025-08-25","s":1.026},{"d":"2025-08-31","s":1.018},{"d":"2025-09-08","s":1.018},{"d":"2025-09-16","s":1.015}
    ],
    "sinais": [
      {"de":"2017-12-04","ate":"2017-12-22","topo":19300,"tipo":"alta"},
      {"de":"2021-01-02","ate":"2021-01-17","topo":40500,"tipo":"alta"},
      {"de":"2018-11-24","ate":"2018-12-02","topo":4300,"tipo":"baixa"},
      {"de":"2018-12-14","ate":"2018-12-25","topo":4100,"tipo":"baixa"},
      {"de":"2020-03-19","ate":"2020-03-20","topo":6200,"tipo":"baixa"},
      {"de":"2022-11-15","ate":"2022-11-30","topo":16500,"tipo":"baixa"}
    ],
    "limites": [
      {"nivel":1.16,"de":"2017-06-17","ate":"2025-09-16","tipo":"alta"},
      {"nivel":0.9375,"de":"2017-06-17","ate":"2025-09-16","tipo":"baixa"}
    ]
  },
  "layer": [
    {
      "data": {"values": [{}]},
      "mark": {"type": "rect", "fill": "#171a21", "cornerRadius": 8},
      "encoding": {"x": {"value": -91}, "x2": {"value": -11}, "y": {"value": -103}, "y2": {"value": -22}}
    },
    {
      "data": {"values": [{}]},
      "mark": {"type": "text", "text": "BT", "font": "Inter", "fontSize": 37, "fontWeight": 800, "fill": "#ffffff", "align": "center", "baseline": "alphabetic"},
      "encoding": {"x": {"value": -51}, "y": {"value": -48}}
    },
    {
      "data": {"values": [{}]},
      "mark": {"type": "text", "text": "Bitcoin: SOPR Ajustado", "font": "Inter", "fontSize": 42, "fontWeight": 600, "fill": "#46506c", "align": "left", "baseline": "alphabetic"},
      "encoding": {"x": {"value": 19}, "y": {"value": -47}}
    },
    {
      "data": {"values": [{}]},
      "mark": {"type": "text", "text": "BLOCKTRENDS", "font": "Inter", "fontSize": 52, "fontWeight": 800, "fill": "#e7ecf4", "align": "left", "baseline": "alphabetic"},
      "encoding": {"x": {"value": 564}, "y": {"value": 547}}
    },
    {
      "data": {"values": [{}]},
      "mark": {"type": "rule", "stroke": "#e3e8f0", "strokeWidth": 2},
      "encoding": {"x": {"value": 987}, "y": {"value": 495}, "y2": {"value": 555}}
    },
    {
      "data": {"values": [{}]},
      "mark": {"type": "text", "text": "Research", "font": "Inter", "fontSize": 52, "fontWeight": 300, "fill": "#e6ebf3", "align": "left", "baseline": "alphabetic"},
      "encoding": {"x": {"value": 1022}, "y": {"value": 547}}
    },
    {
      "data": {"values": [{}]},
      "mark": {"type": "text", "text": "Fonte:", "font": "Inter", "fontSize": 26, "fontWeight": 700, "fill": "#1e1e1e", "align": "left", "baseline": "alphabetic"},
      "encoding": {"x": {"value": -91}, "y": {"value": 1128}}
    },
    {
      "data": {"values": [{}]},
      "mark": {"type": "text", "text": "BlockTrends PRO, dados por Glassnode e @caueconomy em 16/09/2025", "font": "Inter", "fontSize": 26, "fontWeight": 400, "fill": "#1e1e1e", "align": "left", "baseline": "alphabetic"},
      "encoding": {"x": {"value": -4}, "y": {"value": 1128}}
    },
    {
      "data": {"values": [{}]},
      "mark": {"type": "text", "text": "BLOCKTRENDS", "font": "DejaVu Sans", "fontSize": 26, "fontWeight": 700, "fill": "#0d0d0d", "align": "left", "baseline": "alphabetic"},
      "encoding": {"x": {"value": 1589}, "y": {"value": 1130}}
    },
    {
      "data": {"values": [{}]},
      "mark": {"type": "rect", "fill": "#7d8fc4"},
      "encoding": {"x": {"value": 1816}, "x2": {"value": 1897}, "y": {"value": 1102}, "y2": {"value": 1144}}
    },
    {
      "data": {"values": [{}]},
      "mark": {"type": "text", "text": "PRO", "font": "DejaVu Sans", "fontSize": 27, "fontWeight": 700, "fill": "#ffffff", "align": "center", "baseline": "alphabetic"},
      "encoding": {"x": {"value": 1856}, "y": {"value": 1133}}
    },
    {
      "data": {"name": "sinais"},
      "transform": [{"filter": "datum.tipo === 'alta'"}],
      "mark": {"type": "rect", "fill": "#e79a9b"},
      "encoding": {
        "x": {"field": "de", "type": "temporal", "scale": {"type": "utc", "domain": [{"year": 2017, "month": 6, "date": 17, "utc": true}, {"year": 2025, "month": 9, "date": 16, "utc": true}]}, "axis": {"title": null, "format": "%b '%y", "values": [{"year":2017,"month":12,"date":1,"utc":true},{"year":2018,"month":6,"date":1,"utc":true},{"year":2018,"month":12,"date":1,"utc":true},{"year":2019,"month":6,"date":1,"utc":true},{"year":2019,"month":12,"date":1,"utc":true},{"year":2020,"month":6,"date":1,"utc":true},{"year":2020,"month":12,"date":1,"utc":true},{"year":2021,"month":6,"date":1,"utc":true},{"year":2021,"month":12,"date":1,"utc":true},{"year":2022,"month":6,"date":1,"utc":true},{"year":2022,"month":12,"date":1,"utc":true},{"year":2023,"month":6,"date":1,"utc":true},{"year":2023,"month":12,"date":1,"utc":true},{"year":2024,"month":6,"date":1,"utc":true},{"year":2024,"month":12,"date":1,"utc":true},{"year":2025,"month":6,"date":1,"utc":true}]}},
        "x2": {"field": "ate"},
        "y": {"field": "topo", "type": "quantitative", "scale": {"type": "log", "domain": [1000, 132000], "nice": false}, "axis": null},
        "y2": {"datum": 1000}
      }
    },
    {
      "data": {"name": "sinais"},
      "transform": [{"filter": "datum.tipo === 'baixa'"}],
      "mark": {"type": "rect", "fill": "#bce5aa"},
      "encoding": {
        "x": {"field": "de", "type": "temporal", "scale": {"type": "utc", "domain": [{"year": 2017, "month": 6, "date": 17, "utc": true}, {"year": 2025, "month": 9, "date": 16, "utc": true}]}, "axis": {"title": null, "format": "%b '%y", "values": [{"year":2017,"month":12,"date":1,"utc":true},{"year":2018,"month":6,"date":1,"utc":true},{"year":2018,"month":12,"date":1,"utc":true},{"year":2019,"month":6,"date":1,"utc":true},{"year":2019,"month":12,"date":1,"utc":true},{"year":2020,"month":6,"date":1,"utc":true},{"year":2020,"month":12,"date":1,"utc":true},{"year":2021,"month":6,"date":1,"utc":true},{"year":2021,"month":12,"date":1,"utc":true},{"year":2022,"month":6,"date":1,"utc":true},{"year":2022,"month":12,"date":1,"utc":true},{"year":2023,"month":6,"date":1,"utc":true},{"year":2023,"month":12,"date":1,"utc":true},{"year":2024,"month":6,"date":1,"utc":true},{"year":2024,"month":12,"date":1,"utc":true},{"year":2025,"month":6,"date":1,"utc":true}]}},
        "x2": {"field": "ate"},
        "y": {"field": "topo", "type": "quantitative", "scale": {"type": "log", "domain": [1000, 132000], "nice": false}, "axis": null},
        "y2": {"datum": 1000}
      }
    },
    {
      "data": {"name": "sopr"},
      "mark": {"type": "line", "stroke": "#f3c443", "strokeWidth": 3.5, "strokeJoin": "round"},
      "encoding": {
        "x": {"field": "d", "type": "temporal", "scale": {"type": "utc", "domain": [{"year": 2017, "month": 6, "date": 17, "utc": true}, {"year": 2025, "month": 9, "date": 16, "utc": true}]}, "axis": {"title": null, "format": "%b '%y", "values": [{"year":2017,"month":12,"date":1,"utc":true},{"year":2018,"month":6,"date":1,"utc":true},{"year":2018,"month":12,"date":1,"utc":true},{"year":2019,"month":6,"date":1,"utc":true},{"year":2019,"month":12,"date":1,"utc":true},{"year":2020,"month":6,"date":1,"utc":true},{"year":2020,"month":12,"date":1,"utc":true},{"year":2021,"month":6,"date":1,"utc":true},{"year":2021,"month":12,"date":1,"utc":true},{"year":2022,"month":6,"date":1,"utc":true},{"year":2022,"month":12,"date":1,"utc":true},{"year":2023,"month":6,"date":1,"utc":true},{"year":2023,"month":12,"date":1,"utc":true},{"year":2024,"month":6,"date":1,"utc":true},{"year":2024,"month":12,"date":1,"utc":true},{"year":2025,"month":6,"date":1,"utc":true}]}},
        "y": {
          "field": "s", "type": "quantitative",
          "scale": {"type": "log", "domain": [0.8, 1.862], "nice": false},
          "axis": {"orient": "right", "offset": 12, "title": null, "values": [0.8, 0.9, 1], "format": "~g", "grid": false, "ticks": false, "domainColor": "#bfe6ad", "domainWidth": 3, "labelPadding": 16, "labelFont": "DejaVu Sans Condensed, Roboto Condensed, Roboto, sans-serif", "labelFontSize": 20, "labelColor": "#5e5e5e"}
        }
      }
    },
    {
      "data": {"name": "preco"},
      "mark": {"type": "line", "stroke": "#000000", "strokeWidth": 3.5, "strokeJoin": "round"},
      "encoding": {
        "x": {"field": "d", "type": "temporal", "scale": {"type": "utc", "domain": [{"year": 2017, "month": 6, "date": 17, "utc": true}, {"year": 2025, "month": 9, "date": 16, "utc": true}]}, "axis": {"title": null, "format": "%b '%y", "values": [{"year":2017,"month":12,"date":1,"utc":true},{"year":2018,"month":6,"date":1,"utc":true},{"year":2018,"month":12,"date":1,"utc":true},{"year":2019,"month":6,"date":1,"utc":true},{"year":2019,"month":12,"date":1,"utc":true},{"year":2020,"month":6,"date":1,"utc":true},{"year":2020,"month":12,"date":1,"utc":true},{"year":2021,"month":6,"date":1,"utc":true},{"year":2021,"month":12,"date":1,"utc":true},{"year":2022,"month":6,"date":1,"utc":true},{"year":2022,"month":12,"date":1,"utc":true},{"year":2023,"month":6,"date":1,"utc":true},{"year":2023,"month":12,"date":1,"utc":true},{"year":2024,"month":6,"date":1,"utc":true},{"year":2024,"month":12,"date":1,"utc":true},{"year":2025,"month":6,"date":1,"utc":true}]}},
        "y": {
          "field": "p", "type": "quantitative",
          "scale": {"type": "log", "domain": [1000, 132000], "nice": false},
          "axis": {
            "orient": "left", "offset": 13, "title": null,
            "values": [1000, 2000, 3000, 4000, 5000, 6000, 7000, 8000, 10000, 20000, 30000, 40000, 50000, 60000, 70000, 80000, 90000, 100000],
            "labelExpr": "indexof([1000,2000,3000,5000,7000,10000,20000,30000,50000,70000,100000], datum.value) >= 0 ? (datum.value / 1000) + 'K' : ''",
            "grid": true, "gridColor": "#ececec", "gridWidth": 1.5,
            "ticks": false, "domainColor": "#262626", "domainWidth": 3,
            "labelPadding": 16, "labelFont": "DejaVu Sans", "labelFontSize": 16, "labelColor": "#6a6a6a"
          }
        }
      }
    },
    {
      "data": {"name": "limites"},
      "transform": [{"filter": "datum.tipo === 'alta'"}],
      "mark": {"type": "rule", "stroke": "#e3231b", "strokeWidth": 3},
      "encoding": {
        "x": {"field": "de", "type": "temporal", "scale": {"type": "utc", "domain": [{"year": 2017, "month": 6, "date": 17, "utc": true}, {"year": 2025, "month": 9, "date": 16, "utc": true}]}, "axis": {"title": null, "format": "%b '%y", "values": [{"year":2017,"month":12,"date":1,"utc":true},{"year":2018,"month":6,"date":1,"utc":true},{"year":2018,"month":12,"date":1,"utc":true},{"year":2019,"month":6,"date":1,"utc":true},{"year":2019,"month":12,"date":1,"utc":true},{"year":2020,"month":6,"date":1,"utc":true},{"year":2020,"month":12,"date":1,"utc":true},{"year":2021,"month":6,"date":1,"utc":true},{"year":2021,"month":12,"date":1,"utc":true},{"year":2022,"month":6,"date":1,"utc":true},{"year":2022,"month":12,"date":1,"utc":true},{"year":2023,"month":6,"date":1,"utc":true},{"year":2023,"month":12,"date":1,"utc":true},{"year":2024,"month":6,"date":1,"utc":true},{"year":2024,"month":12,"date":1,"utc":true},{"year":2025,"month":6,"date":1,"utc":true}]}},
        "x2": {"field": "ate"},
        "y": {"field": "nivel", "type": "quantitative", "scale": {"type": "log", "domain": [0.8, 1.862], "nice": false}, "axis": null}
      }
    },
    {
      "data": {"name": "limites"},
      "transform": [{"filter": "datum.tipo === 'baixa'"}],
      "mark": {"type": "rule", "stroke": "#29307a", "strokeWidth": 3.5},
      "encoding": {
        "x": {"field": "de", "type": "temporal", "scale": {"type": "utc", "domain": [{"year": 2017, "month": 6, "date": 17, "utc": true}, {"year": 2025, "month": 9, "date": 16, "utc": true}]}, "axis": {"title": null, "format": "%b '%y", "values": [{"year":2017,"month":12,"date":1,"utc":true},{"year":2018,"month":6,"date":1,"utc":true},{"year":2018,"month":12,"date":1,"utc":true},{"year":2019,"month":6,"date":1,"utc":true},{"year":2019,"month":12,"date":1,"utc":true},{"year":2020,"month":6,"date":1,"utc":true},{"year":2020,"month":12,"date":1,"utc":true},{"year":2021,"month":6,"date":1,"utc":true},{"year":2021,"month":12,"date":1,"utc":true},{"year":2022,"month":6,"date":1,"utc":true},{"year":2022,"month":12,"date":1,"utc":true},{"year":2023,"month":6,"date":1,"utc":true},{"year":2023,"month":12,"date":1,"utc":true},{"year":2024,"month":6,"date":1,"utc":true},{"year":2024,"month":12,"date":1,"utc":true},{"year":2025,"month":6,"date":1,"utc":true}]}},
        "x2": {"field": "ate"},
        "y": {"field": "nivel", "type": "quantitative", "scale": {"type": "log", "domain": [0.8, 1.862], "nice": false}, "axis": null}
      }
    }
  ],
  "resolve": {"scale": {"y": "independent"}, "axis": {"y": "independent"}},
  "config": {
    "view": {"stroke": null},
    "axisX": {
      "domainColor": "#dcc6b8", "domainWidth": 3,
      "tickColor": "#e2e2e2", "tickWidth": 1, "tickSize": 20,
      "labelPadding": 6, "labelFont": "DejaVu Sans Condensed, Roboto Condensed, Roboto, sans-serif", "labelFontSize": 20, "labelColor": "#5a5a5a",
      "grid": false, "labelFlush": false, "labelOverlap": false
    }
  }
}
